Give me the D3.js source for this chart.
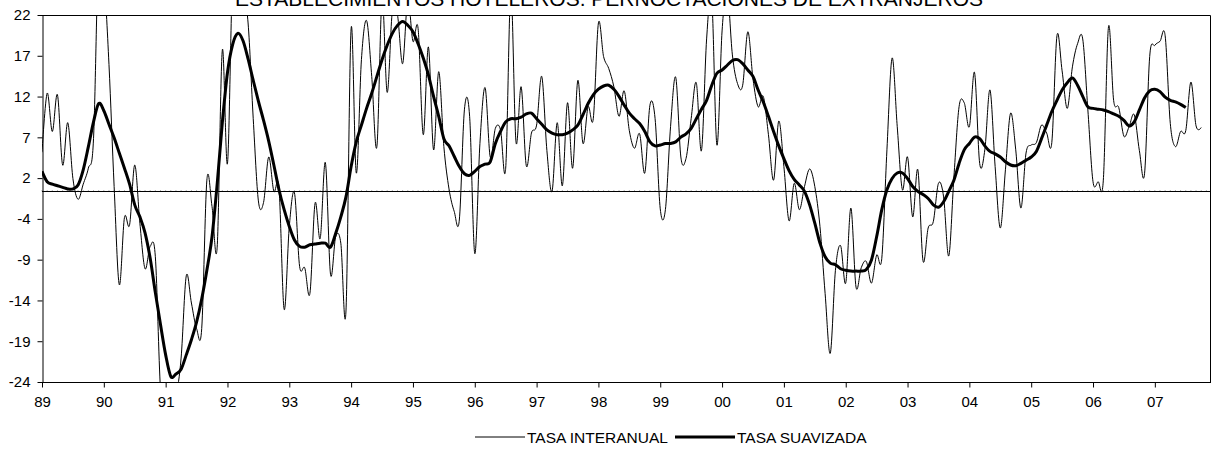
<!DOCTYPE html>
<html>
<head>
<meta charset="utf-8">
<script src="https://cdn.jsdelivr.net/npm/d3@7"></script>
<style>
  html, body { margin: 0; padding: 0; background: #fff; }
  svg { display: block; }
  text { font-family: "Liberation Sans", Arial, sans-serif; fill: #000; }
</style>
</head>
<body>
<svg id="chart" width="1213" height="450"></svg>
<script>
// ---- DATA ----
const title = "ESTABLECIMIENTOS HOTELEROS. PERNOCTACIONES DE EXTRANJEROS";
const startYear = 1989;
const yearLabels = ["89","90","91","92","93","94","95","96","97","98","99","00","01","02","03","04","05","06","07"];
const yTickLabels = ["-24","-19","-14","-9","-4","2","7","12","17","22"];
const seriesNames = ["TASA INTERANUAL", "TASA SUAVIZADA"];

// Monthly year-on-year rate (thin line), Jan 1989 onwards
const tasaInteranual = [
  4.8, 12.2, 7.4, 12.0, 3.2, 8.5, 1.5, -1.1, 0.8, 2.8, 6.5, 30, 27, 15.8, 0.5, -11.8,
  -3.4, -4.3, 3.2, -4.1, -9.8, -7.0, -8.3, -25, -30, -29, -26, -21, -10.7, -14.1, -17.3, -17.3,
  1.3, -2.0, -7.1, 17.6, 3.4, 27, 28, 25, 21, 9, -1.3, -1.5, 4.2, -0.1, 0.3, -14.9,
  -4.5, -0.3, -9.5, -9.7, -12.9, -1.6, -6.0, 3.5, -10.5, -5.8, -6.6, -15.1, 20.3, 2.2, 16.4, 21.3,
  14.3, 5.5, 24, 12.3, 22.5, 22, 15.9, 24, 18.7, 20.3, 7.0, 18.0, 5.1, 14.9, 5.5, 0.2,
  -2.6, -3.7, 10.2, 9.3, -7.9, 5.9, 12.9, 4.2, 7.8, 7.6, 2.8, 25, 6.1, 13.0, 3.1, 7.2,
  8.2, 14.3, 5.0, -0.1, 8.5, 0.6, 11.0, 2.8, 13.8, 5.9, 10.5, 9.0, 21.0, 16.8, 15.3, 13.0,
  9.3, 12.5, 7.5, 5.3, 7.1, 2.2, 10.7, 9.0, -2.3, -2.4, 8.0, 14.2, 4.2, 4.0, 9.0, 13.5,
  5.0, 19, 24, 5.7, 20, 25, 17, 13.4, 13.2, 19.9, 14, 10.5, 11.8, 7, 1.3, 8.7,
  3, -3.8, 0.9, -2.4, 0.5, 2.7, 0.5, -4.5, -12.9, -20.4, -10, -6.9, -11.6, -2.2, -12.1, -9.7,
  -8.9, -11.6, -8.1, -8.5, 5.1, 16.6, 8.0, 0.1, 4.2, -3.3, 2.6, -8.8, -4.7, -3.9, 0.9, -0.8,
  -8.2, 1.7, 10.5, 11.0, 8.0, 14.8, 3.4, 5.1, 12.6, 3.0, -4.7, 2.6, 9.7, 5.1, -2.2, 4.7,
  5.7, 6.0, 8.2, 7.2, 6.0, 19.4, 15, 10.3, 15.5, 18.4, 19.0, 10.1, 1.1, 1.1, 1.3, 20.5,
  11.3, 10.4, 6.8, 8.0, 9.5, 5.0, 2.1, 16.8, 18.2, 18.7, 19.4, 8.4, 5.5, 7.4, 7.5, 13.6,
  8.1, 7.9
];

// Smoothed rate (thick line), Jan 1989 onwards
const tasaSuavizada = [
  2.4, 1.1, 0.8, 0.6, 0.4, 0.2, 0.2, 0.7, 2.6, 5.5, 8.6, 10.9, 10.0, 8.3, 6.6, 4.7,
  2.8, 0.8, -1.8, -3.3, -5.3, -8.5, -12.8, -16.8, -20.6, -23.3, -23.0, -22.4, -20.6, -18.7, -16.5, -13.6,
  -10.0, -5.8, 0.8, 8.5, 14.8, 18.3, 19.7, 18.8, 16.5, 13.8, 11.2, 8.8, 6.2, 3.2, 0.1, -2.4,
  -4.5, -6.2, -7.0, -7.1, -6.8, -6.7, -6.6, -6.6, -7.1, -5.4, -3.3, -0.8, 3.0, 6.1, 8.2, 10.3,
  12.2, 14.3, 16.4, 18.2, 19.7, 20.7, 21.2, 20.7, 19.9, 18.4, 16.6, 14.5, 11.8, 9.3, 6.5, 5.6,
  4.3, 3.0, 2.1, 1.9, 2.4, 3.0, 3.3, 3.6, 5.9, 7.4, 8.6, 9.0, 9.0, 9.2, 9.6, 9.7,
  9.0, 8.3, 7.6, 7.2, 7.0, 7.0, 7.2, 7.6, 8.2, 9.5, 10.9, 12.0, 12.7, 13.1, 13.2, 12.7,
  11.8, 10.7, 9.7, 9.0, 8.4, 7.4, 6.1, 5.6, 5.7, 5.9, 5.9, 6.1, 6.7, 7.1, 7.8, 9.0,
  10.2, 11.3, 13.2, 14.7, 15.1, 15.7, 16.3, 16.4, 15.9, 15.1, 14.3, 12.6, 11.1, 9.3, 7.4, 5.6,
  4.0, 2.5, 1.4, 0.7, -0.1, -1.8, -4.1, -6.6, -8.3, -9.1, -9.3, -9.8, -10.0, -10.1, -10.1, -10.1,
  -9.9, -8.7, -5.8, -2.4, 0.1, 1.5, 2.2, 2.2, 1.5, 0.5, -0.1, -0.5, -1.0, -1.8, -2.1, -1.4,
  -0.1, 1.3, 3.4, 5.1, 5.9, 6.7, 6.5, 5.6, 4.9, 4.6, 4.2, 3.6, 3.2, 3.1, 3.4, 3.8,
  4.2, 4.9, 6.5, 8.2, 9.9, 11.3, 12.6, 13.5, 14.1, 13.2, 11.8, 10.5, 10.3, 10.2, 10.1, 9.9,
  9.6, 9.3, 8.8, 8.1, 8.6, 10.1, 11.6, 12.5, 12.7, 12.4, 11.7, 11.3, 11.1, 10.8, 10.4
];

// ---- CHART ----
const svg = d3.select("#chart");
const W = 1213, H = 450;
const m = { left: 42, right: 2, top: 15, bottom: 68 };
const x0 = m.left, x1 = W - m.right, yTop = m.top, yBot = H - m.bottom;

const nMonths = tasaInteranual.length;
const x = d3.scaleLinear().domain([0, nMonths + 0.9]).range([x0, x1]);
const y = d3.scaleLinear().domain([-24, 22]).range([yBot, yTop]);

svg.append("rect").attr("width", W).attr("height", H).attr("fill", "#fff");

// clip
svg.append("defs").append("clipPath").attr("id", "plotClip")
  .append("rect").attr("x", x0).attr("y", yTop).attr("width", x1 - x0).attr("height", yBot - yTop);

// Plot frame (top & right)
svg.append("path")
  .attr("d", `M${x0},${yTop + 0.5}H${x1 - 0.5}V${yBot}`)
  .attr("fill", "none").attr("stroke", "#000").attr("stroke-width", 1);

// Y axis
const yTickValues = yTickLabels.map((_, i) => -24 + i * 46 / 9);
const yAxis = d3.axisLeft(y).tickValues(yTickValues)
  .tickFormat((d, i) => yTickLabels[i]).tickSize(5).tickSizeOuter(0).tickPadding(7);
const gy = svg.append("g").attr("transform", `translate(${x0 + 0.5},0)`).call(yAxis);
gy.selectAll("text").style("font-size", "15px").style("font-family", "Liberation Sans, Arial, sans-serif");
gy.selectAll("line, path").attr("stroke", "#000");

// X axis
const yearTicks = yearLabels.map((_, i) => i * 12);
const xAxis = d3.axisBottom(x).tickValues(yearTicks)
  .tickFormat((d, i) => yearLabels[i]).tickSize(5).tickSizeOuter(0).tickPadding(9);
const gx = svg.append("g").attr("transform", `translate(0,${yBot + 0.5})`).call(xAxis);
gx.select(".domain").attr("d", `M${x0},0H${x1}`);
gx.selectAll("text").style("font-size", "15px").style("font-family", "Liberation Sans, Arial, sans-serif");
gx.selectAll("line, path").attr("stroke", "#000");

// zero line with small month marks
const y0px = Math.round(y(0)) + 0.5;
svg.append("line")
  .attr("x1", x0).attr("x2", x1).attr("y1", y0px).attr("y2", y0px)
  .attr("stroke", "#000").attr("stroke-width", 1);
svg.append("g").selectAll("line").data(d3.range(0, nMonths + 1))
  .join("line")
  .attr("x1", d => x(d)).attr("x2", d => x(d))
  .attr("y1", y0px - 1.5).attr("y2", y0px)
  .attr("stroke", "#000").attr("stroke-width", 0.6).attr("stroke-opacity", 0.5);

const plot = svg.append("g").attr("clip-path", "url(#plotClip)");
const line = d3.line().x((d, i) => x(i)).y(d => y(d)).curve(d3.curveCardinal.tension(0));

plot.append("path").datum(tasaInteranual)
  .attr("d", line).attr("fill", "none").attr("stroke", "#000").attr("stroke-width", 1);
plot.append("path").datum(tasaSuavizada)
  .attr("d", line).attr("fill", "none").attr("stroke", "#000").attr("stroke-width", 3)
  .attr("stroke-linejoin", "round");

// Title (partially cut at top as in the original)
svg.append("text").attr("x", 609).attr("y", 6).attr("text-anchor", "middle")
  .style("font-size", "21px").text(title);

// Legend
const legY = 437;
const leg = svg.append("g");
leg.append("line").attr("x1", 475).attr("x2", 525).attr("y1", legY).attr("y2", legY)
  .attr("stroke", "#000").attr("stroke-width", 1);
leg.append("text").attr("x", 527).attr("y", legY).attr("dy", "0.36em")
  .style("font-size", "15.5px").text(seriesNames[0]);
leg.append("line").attr("x1", 675).attr("x2", 735).attr("y1", legY).attr("y2", legY)
  .attr("stroke", "#000").attr("stroke-width", 3);
leg.append("text").attr("x", 737).attr("y", legY).attr("dy", "0.36em")
  .style("font-size", "15.5px").text(seriesNames[1]);
</script>
</body>
</html>
